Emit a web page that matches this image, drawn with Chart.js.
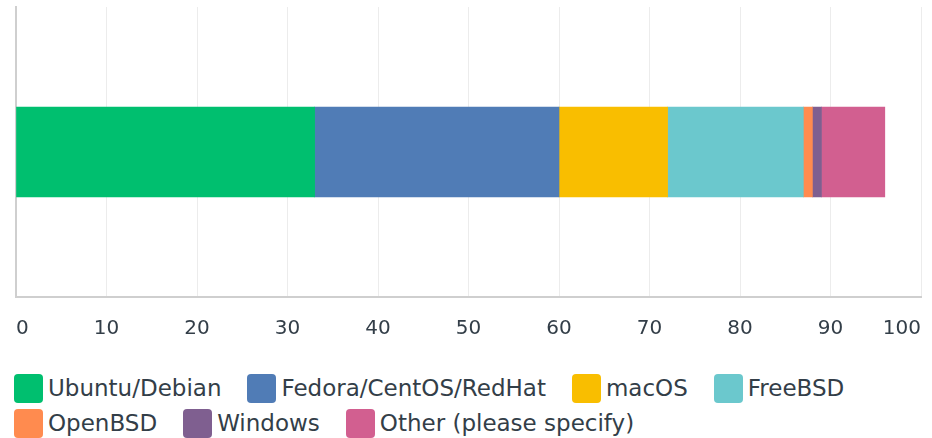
<!DOCTYPE html>
<html>
<head>
<meta charset="utf-8">
<script src="https://cdn.jsdelivr.net/npm/chart.js@4.4.1/dist/chart.umd.min.js"></script>
<style>
  html, body { margin: 0; padding: 0; background: #fff; }
  #wrap { width: 932px; height: 438px; position: relative; overflow: hidden; }
  #chartBox { width: 932px; height: 347px; position: relative; }
  #legend {
    display: flex; flex-wrap: wrap; column-gap: 26px; row-gap: 6px;
    margin: 27px 0 0 0; padding: 0 0 0 14px; list-style: none;
    font-family: 'DejaVu Sans', sans-serif; font-size: 23px; color: #333e48;
  }
  #legend li { display: flex; align-items: center; height: 29px; line-height: 29px; white-space: nowrap; }
  #legend .box { width: 29px; height: 29px; border-radius: 4px; margin-right: 5px; flex: none; }
</style>
</head>
<body>
<div id="wrap">
  <div id="chartBox"><canvas id="osChart"></canvas></div>
  <ul id="legend"></ul>
</div>
<script>
// Dữ liệu biểu đồ
var categories = [''];
var seriesNames = ['Ubuntu/Debian', 'Fedora/CentOS/RedHat', 'macOS', 'FreeBSD', 'OpenBSD', 'Windows', 'Other (please specify)'];
var seriesValues = [33, 27, 12, 15, 1, 1, 7];
var seriesColors = ['#00bf6f', '#507cb6', '#f9be00', '#6bc8cd', '#ff8b4f', '#7f5f90', '#d25f90'];
var tickValues = [0, 10, 20, 30, 40, 50, 60, 70, 80, 90, 100];

var textColor = '#333e48';

var datasets = seriesNames.map(function (name, i) {
    return {
        label: name,
        data: [seriesValues[i]],
        backgroundColor: seriesColors[i],
        borderWidth: 0,
        barThickness: 90
    };
});

// Chú thích dạng HTML, tạo từ các dataset của biểu đồ
var htmlLegend = {
    id: 'htmlLegend',
    afterUpdate: function (chart) {
        var ul = document.getElementById('legend');
        ul.innerHTML = '';
        chart.data.datasets.forEach(function (ds) {
            var li = document.createElement('li');
            var box = document.createElement('span');
            box.className = 'box';
            box.style.background = ds.backgroundColor;
            var txt = document.createElement('span');
            txt.textContent = ds.label;
            li.appendChild(box);
            li.appendChild(txt);
            ul.appendChild(li);
        });
    }
};

var ctx = document.getElementById('osChart').getContext('2d');
var myChart = new Chart(ctx, {
    type: 'bar',
    data: { labels: categories, datasets: datasets },
    plugins: [htmlLegend],
    options: {
        indexAxis: 'y',
        responsive: true,
        maintainAspectRatio: false,
        animation: false,
        layout: { padding: { left: 8, right: 11, top: 7, bottom: 0 } },
        scales: {
            x: {
                stacked: true,
                min: 0,
                max: 100,
                afterBuildTicks: function (axis) {
                    axis.ticks = tickValues.map(function (v) { return { value: v }; });
                },
                grid: { color: '#ececec', drawTicks: true, tickLength: 14, tickColor: 'rgba(0,0,0,0)' },
                border: { color: '#cfcfcf', width: 2 },
                ticks: {
                    align: 'inner',
                    padding: 6,
                    color: textColor,
                    font: { family: 'DejaVu Sans', size: 20 }
                }
            },
            y: {
                stacked: true,
                grid: { display: false },
                border: { color: '#cfcfcf', width: 2 },
                ticks: { display: false }
            }
        },
        plugins: {
            tooltip: { enabled: false },
            legend: { display: false }
        }
    }
});
</script>
</body>
</html>
